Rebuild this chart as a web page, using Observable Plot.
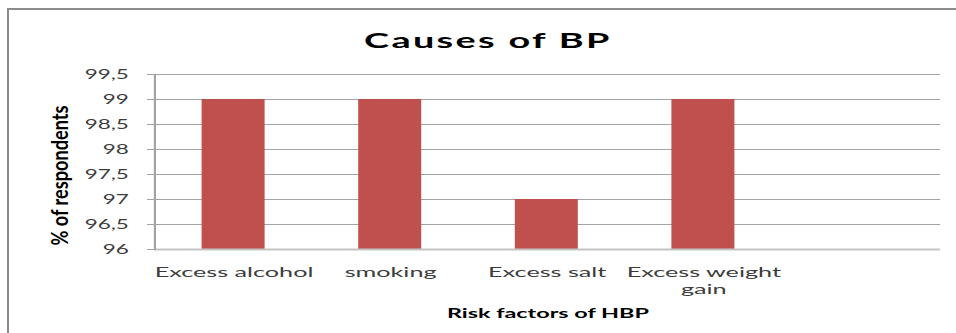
<!DOCTYPE html>
<html>
<head>
<meta charset="utf-8">
<script src="https://cdn.jsdelivr.net/npm/d3@7"></script>
<script src="https://cdn.jsdelivr.net/npm/@observablehq/plot@0.6"></script>
<style>
  html, body { margin: 0; padding: 0; background: #fff; overflow: hidden; }
  #frame {
    position: absolute; left: 7px; top: 8px; width: 1000px; height: 400px;
    border: 2px solid #8c8c8c; box-sizing: border-box;
  }
  #chart { position: absolute; left: 0; top: 0; }
</style>
</head>
<body>
<div id="frame"></div>
<div id="chart"></div>
<script>
// Survey results: share of respondents naming each risk factor of high blood pressure
const categories = ["Excess alcohol", "smoking", "Excess salt", "Excess weight gain"];
const respondents = [99, 99, 97, 99];
const emptySlot = ""; // the category axis keeps one unused slot on the right
const yTicks = [96, 96.5, 97, 97.5, 98, 98.5, 99, 99.5];
const title = "Causes of BP";
const xTitle = "Risk factors of HBP";
const yTitle = "% of respondents";

const data = categories.map((cause, i) => ({cause, pct: respondents[i]}));

// The whole drawing is laid out in a narrow frame and then stretched horizontally.
const W = 956, H = 333, SX = 1.8;
const innerW = W / SX;
const plotLeft = 154, plotRight = 940, plotTop = 74, plotBottom = 249;

const comma = d => String(d).replace(".", ",");

const chart = Plot.plot({
  width: innerW,
  height: H,
  marginLeft: plotLeft / SX,
  marginRight: (W - plotRight) / SX,
  marginTop: plotTop,
  marginBottom: H - plotBottom,
  style: {fontFamily: "Lato, 'Open Sans', sans-serif", background: "transparent", overflow: "visible"},
  x: {domain: [...categories, emptySlot], paddingInner: 0.6, paddingOuter: 0.3, axis: null},
  y: {domain: [yTicks[0], yTicks[yTicks.length - 1]], axis: null},
  marks: [
    Plot.gridY(yTicks, {stroke: "#a3a3a3", strokeOpacity: 1, strokeWidth: 1}),
    Plot.barY(data, {x: "cause", y1: yTicks[0], y2: "pct", fill: "#c0504d"}),
    Plot.ruleY([yTicks[0]], {stroke: "#c4c4c4", strokeWidth: 2}),
    Plot.frame({anchor: "left", stroke: "#a3a3a3", strokeWidth: 1.2}),
    Plot.axisY(yTicks, {
      tickSize: 7 / SX, tickPadding: 19 / SX, tickFormat: comma,
      fontSize: 12.5, fill: "#3c3c3c", stroke: "#a3a3a3", label: null
    }),
    Plot.axisX(categories, {
      tickSize: 0, tickPadding: 16, fontSize: 14, lineWidth: 7.8, lineHeight: 1.2,
      fill: "#3c3c3c", label: null
    }),
    Plot.text([title], {
      text: d => d, frameAnchor: "top", lineAnchor: "bottom",
      dx: (487 - (plotLeft + plotRight) / 2) / SX, dy: 47 - plotTop,
      fontSize: 21, fontWeight: "bold", fill: "#000"
    }),
    Plot.text([xTitle], {
      text: d => d, frameAnchor: "bottom", lineAnchor: "bottom",
      dy: 317 - plotBottom, fontSize: 13, fontWeight: "bold", fill: "#000"
    }),
    Plot.text([yTitle], {
      text: d => d, frameAnchor: "left", textAnchor: "middle", lineAnchor: "bottom", rotate: -90,
      dx: (67 - plotLeft) / SX, dy: 175 - (plotTop + plotBottom) / 2,
      fontSize: 13, fontWeight: "bold", fill: "#000"
    })
  ]
});

// stretch the narrow layout across the full page width
chart.setAttribute("preserveAspectRatio", "none");
chart.setAttribute("width", W);
chart.setAttribute("height", H);
chart.style.width = W + "px";
chart.style.height = H + "px";
chart.style.maxWidth = "none";

// text elements whose content is the given string
const textOf = s => d3.select(chart).selectAll("text").filter(function () {
  return this.textContent === s;
});

textOf(title).style("letter-spacing", "1.3px");
textOf(yTitle)
  .attr("textLength", 140)
  .attr("lengthAdjust", "spacingAndGlyphs");

document.getElementById("chart").append(chart);
</script>
</body>
</html>
